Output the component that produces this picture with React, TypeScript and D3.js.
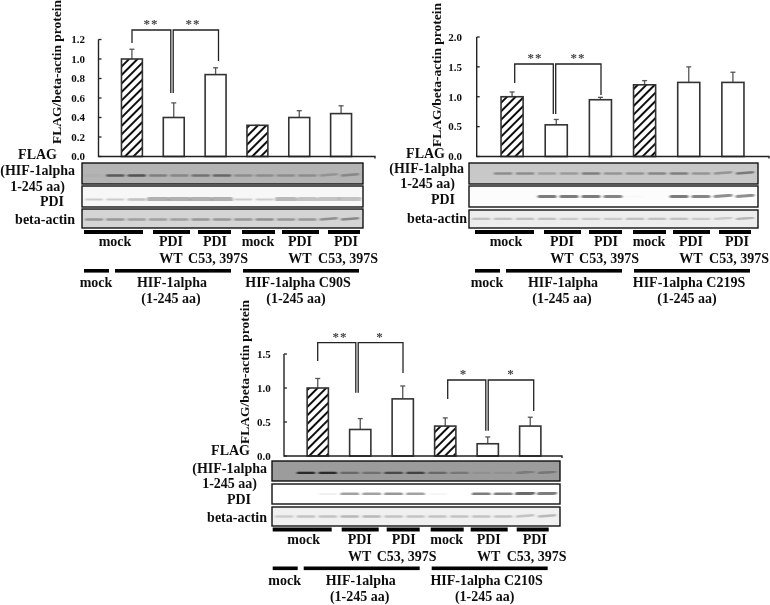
import React from "react";
import * as d3 from "d3";

const barNames = ["mock", "PDI WT", "PDI C53", "mock2", "PDI WT2", "PDI C53 2"];
const valuesA = [1.0, 0.4, 0.84, 0.32, 0.4, 0.44];
const errTopA = [1.1, 0.55, 0.91, 0.32, 0.47, 0.52];
const valuesB = [1.0, 0.53, 0.95, 1.2, 1.24, 1.24];
const errTopB = [1.08, 0.62, 0.99, 1.27, 1.5, 1.41];
const valuesC = [1.0, 0.39, 0.84, 0.44, 0.18, 0.44];
const errTopC = [1.14, 0.55, 1.03, 0.56, 0.28, 0.57];
const ticksA = [0, 0.2, 0.4, 0.6, 0.8, 1.0, 1.2];
const ticksB = [0, 0.5, 1.0, 1.5, 2.0];
const ticksC = [0, 0.5, 1.0, 1.5];

const flagA = [0.05, 0.7, 0.75, 0.4, 0.35, 0.5, 0.6, 0.3, 0.3, 0.3, 0.3, 0.25, 0.35];
const pdiA = [0.25, 0.25, 0.3, 0.4, 0.4, 0.4, 0.4, 0.25, 0.25, 0.35, 0.3, 0.3, 0.3];
const pdiThickA = [2, 2, 2.5, 6, 6, 6, 6, 2, 2, 6, 5, 6, 7];
const actinA = [0.4, 0.4, 0.35, 0.35, 0.35, 0.4, 0.4, 0.4, 0.45, 0.4, 0.4, 0.45, 0.5];
const flagB = [0, 0.45, 0.45, 0.3, 0.35, 0.55, 0.4, 0.4, 0.5, 0.55, 0.4, 0.4, 0.6];
const pdiB = [0, 0, 0, 0.7, 0.7, 0.7, 0.65, 0.02, 0, 0.7, 0.65, 0.6, 0.6];
const pdiThickB = [2, 2, 2, 3, 3, 3, 3, 2, 2, 3, 3, 3, 3];
const actinB = [0.25, 0.25, 0.25, 0.25, 0.2, 0.2, 0.2, 0.25, 0.25, 0.25, 0.2, 0.2, 0.3];
const flagC = [0, 0.85, 0.85, 0.4, 0.35, 0.65, 0.7, 0.4, 0.3, 0.08, 0.08, 0.25, 0.3];
const pdiC = [0, 0, 0.08, 0.5, 0.5, 0.55, 0.5, 0.05, 0, 0.7, 0.7, 0.8, 0.7];
const pdiThickC = [2, 2, 2, 3, 3, 3, 3, 2, 2, 3, 3, 4, 4];
const actinC = [0.2, 0.25, 0.25, 0.3, 0.3, 0.25, 0.25, 0.25, 0.25, 0.25, 0.25, 0.25, 0.3];

const yTitle = "FLAG/beta-actin protein";
const groupLabels = ["mock", "PDI", "PDI", "mock", "PDI", "PDI"];
const subLabels = ["WT", "C53, 397S", "WT", "C53, 397S"];

const font = "'Liberation Serif', 'Times New Roman', serif";

type BracketT = { l: number; m: number; r: number; top: number; lb: number; mb: number; rb: number; stars: [string, string]; sl: number; sr: number };

function Txt(p: { x: number; y: number; s: string; size?: number; a?: string }) {
  return (
    <text x={p.x} y={p.y} fontSize={p.size ?? 14} textAnchor={p.a ?? "middle"} fontWeight="bold" fontFamily={font} fill="#111">
      {p.s}
    </text>
  );
}

function Blot(p: { x0: number; x1: number; y0: number; y1: number; bg: string; vals: number[]; thick: number[] | number; dark: number; shift: number }) {
  const lane = d3.scalePoint<number>().domain(d3.range(p.vals.length)).range([p.x0 + 12, p.x1 - 13]);
  const cy = (p.y0 + p.y1) / 2 + p.shift;
  return (
    <g>
      <rect x={p.x0} y={p.y0} width={p.x1 - p.x0} height={p.y1 - p.y0} fill={p.bg} />
      <g filter="url(#band)">
        {p.vals.map((v, i) => {
          const slope = i >= 11 ? -1.2 : 0;
          const t = Array.isArray(p.thick) ? p.thick[i] : p.thick;
          const xc = lane(i)!;
          return v > 0 ? (
            <line key={i} x1={xc - 8} x2={xc + 8} y1={cy} y2={cy + slope} stroke={`rgb(${p.dark},${p.dark},${p.dark})`} strokeOpacity={v} strokeWidth={t} strokeLinecap="round" />
          ) : null;
        })}
      </g>
      <rect x={p.x0} y={p.y0} width={p.x1 - p.x0} height={p.y1 - p.y0} fill="none" stroke="#111" strokeWidth={1.4} />
    </g>
  );
}

function Panel(p: {
  axisX: number; axisEnd: number; y0: number; yTop: number; domainMax: number; bandL: number; bandR: number;
  values: number[]; errTop: number[]; ticks: number[]; tickEnd: number; titleX: number; titleY: number;
  brackets: BracketT[];
  blotX0: number; blotX1: number; blotYs: [number, number][]; blotBg: string[];
  flag: number[]; pdi: number[]; pdiThick: number[]; actin: number[]; flagDark: number; shifts: number[];
  leftLabels: { s: string; x: number; y: number; a?: string }[];
  dx: number; dy: number; construct: string; ctrX: number;
}) {
  const y = d3.scaleLinear().domain([0, p.domainMax]).range([p.y0, p.yTop]);
  const x = d3.scaleBand<string>().domain(barNames).range([p.bandL, p.bandR]).paddingInner(0.5).paddingOuter(0.25);
  const bw = x.bandwidth();
  const { dx, dy } = p;
  const groupBars: [number, number][] = [[84, 143], [153, 190], [198, 231], [242, 275], [282, 319], [328, 360]];
  const groupCx = [115, 171, 215, 258, 300, 346];
  const subCx = [171, 218, 300, 348];
  const lowBars: [number, number][] = [[84, 109], [115, 231], [243, 359]];
  return (
    <g>
      {p.values.map((v, i) => {
        const bx = x(barNames[i])!;
        const cx = bx + bw / 2;
        return (
          <g key={i}>
            <line x1={cx} x2={cx} y1={y(v)} y2={y(p.errTop[i])} stroke="#555" strokeWidth={1.3} />
            <line x1={cx - 2.5} x2={cx + 2.5} y1={y(p.errTop[i])} y2={y(p.errTop[i])} stroke="#555" strokeWidth={1.3} />
            <rect x={bx} y={y(v)} width={bw} height={p.y0 - y(v)} fill={i === 0 || i === 3 ? "url(#hatch)" : "#fff"} stroke="#333" strokeWidth={1.6} />
          </g>
        );
      })}
      <path d={`M${p.axisX},${p.yTop}V${p.y0}H${p.axisEnd}V${p.y0 + 2}`} fill="none" stroke="#222" strokeWidth={1.4} />
      {p.ticks.map((t) => (
        <g key={t}>
          <line x1={p.axisX} x2={p.axisX + 3} y1={y(t)} y2={y(t)} stroke="#222" strokeWidth={1.3} />
          <Txt x={p.tickEnd} y={y(t) + 3.8} s={d3.format(".1f")(t)} size={11} a="end" />
        </g>
      ))}
      <text transform={`translate(${p.titleX},${p.titleY}) rotate(-90)`} fontSize={13.5} fontWeight="bold" fontFamily={font} textAnchor="start" fill="#111">
        {yTitle}
      </text>
      {p.brackets.map((b, i) => (
        <g key={i}>
          <path d={`M${b.l},${b.lb}V${b.top}H${b.m - 1.2}V${b.mb}`} fill="none" stroke="#222" strokeWidth={1.3} />
          <path d={`M${b.r},${b.rb}V${b.top}H${b.m + 1.2}V${b.mb}`} fill="none" stroke="#222" strokeWidth={1.3} />
          <text x={b.sl} y={b.top - 2} fontSize={13} textAnchor="middle" fill="#444" fontFamily={font} fontWeight="bold" letterSpacing={1}>{b.stars[0]}</text>
          <text x={b.sr} y={b.top - 2} fontSize={13} textAnchor="middle" fill="#444" fontFamily={font} fontWeight="bold" letterSpacing={1}>{b.stars[1]}</text>
        </g>
      ))}
      <Blot x0={p.blotX0} x1={p.blotX1} y0={p.blotYs[0][0]} y1={p.blotYs[0][1]} bg={p.blotBg[0]} vals={p.flag} thick={2.5} dark={p.flagDark} shift={p.shifts[0]} />
      <Blot x0={p.blotX0} x1={p.blotX1} y0={p.blotYs[1][0]} y1={p.blotYs[1][1]} bg={p.blotBg[1]} vals={p.pdi} thick={p.pdiThick} dark={70} shift={p.shifts[1]} />
      <Blot x0={p.blotX0} x1={p.blotX1} y0={p.blotYs[2][0]} y1={p.blotYs[2][1]} bg={p.blotBg[2]} vals={p.actin} thick={2.5} dark={60} shift={p.shifts[2]} />
      {p.leftLabels.map((l, i) => <Txt key={i} x={l.x} y={l.y} s={l.s} a={l.a ?? "end"} />)}
      {groupBars.map(([a, b], i) => <rect key={i} x={a + dx} y={230 + dy} width={b - a} height={4} fill="#000" />)}
      {groupLabels.map((s, i) => <Txt key={i} x={groupCx[i] + dx} y={246 + dy} s={s} />)}
      {subLabels.map((s, i) => <Txt key={i} x={subCx[i] + dx} y={263 + dy} s={s} />)}
      {lowBars.map(([a, b], i) => <rect key={i} x={a + dx} y={269 + dy} width={b - a} height={3.6} fill="#000" />)}
      <Txt x={96 + dx} y={287 + dy} s="mock" />
      <Txt x={172 + dx} y={287 + dy} s="HIF-1alpha" />
      <Txt x={171 + dx} y={303 + dy} s="(1-245 aa)" />
      <Txt x={p.ctrX + dx} y={287 + dy} s={p.construct} />
      <Txt x={296 + dx} y={303 + dy} s="(1-245 aa)" />
    </g>
  );
}

export default function App() {
  return (
    <svg width={770} height={605} viewBox="0 0 770 605" style={{ position: "absolute", left: 0, top: 0, background: "#fff" }}>
      <defs>
        <pattern id="hatch" width={6} height={6} patternUnits="userSpaceOnUse" patternTransform="rotate(45)">
          <rect width={6} height={6} fill="#fff" />
          <rect width={2} height={6} fill="#111" />
        </pattern>
        <filter id="band" x="-5%" y="-50%" width="110%" height="200%"><feGaussianBlur stdDeviation="1.1 0.6" /></filter>
        <filter id="soft" x="0" y="0" width="100%" height="100%"><feGaussianBlur stdDeviation="0.35" /></filter>
      </defs>
      <g filter="url(#soft)">
        <Panel axisX={98.5} axisEnd={375} y0={156.5} yTop={39.5} domainMax={1.2} bandL={111} bandR={362}
          values={valuesA} errTop={errTopA} ticks={ticksA} tickEnd={85} titleX={61} titleY={144}
          brackets={[{ l: 132, m: 172, r: 218.5, top: 30, lb: 43, mb: 93, rb: 61, stars: ["**", "**"], sl: 151, sr: 193 }]}
          blotX0={82} blotX1={363} blotYs={[[163, 184], [186, 207], [209, 228]]} blotBg={["#b4b4b4", "#f7f7f7", "#d4d4d4"]}
          flag={flagA} pdi={pdiA} pdiThick={pdiThickA} actin={actinA} flagDark={50} shifts={[2, 3, 1]}
          leftLabels={[
            { s: "FLAG", x: 57, y: 159 }, { s: "(HIF-1alpha", x: 75, y: 175 }, { s: "1-245 aa)", x: 65, y: 190.5 },
            { s: "PDI", x: 64, y: 206 }, { s: "beta-actin", x: 75, y: 224 },
          ]}
          dx={0} dy={0} construct="HIF-1alpha C90S" ctrX={298} />
        <Panel axisX={476.7} axisEnd={769} y0={156.5} yTop={37} domainMax={2} bandL={490} bandR={755}
          values={valuesB} errTop={errTopB} ticks={ticksB} tickEnd={462} titleX={441} titleY={147}
          brackets={[{ l: 514.7, m: 554.5, r: 601, top: 64, lb: 83, mb: 114, rb: 95, stars: ["**", "**"], sl: 535, sr: 578 }]}
          blotX0={469} blotX1={758} blotYs={[[163, 184], [186, 207], [210, 228]]} blotBg={["#c8c8c8", "#fcfcfc", "#ededed"]}
          flag={flagB} pdi={pdiB} pdiThick={pdiThickB} actin={actinB} flagDark={70} shifts={[0, 0, 0]}
          leftLabels={[
            { s: "FLAG", x: 445, y: 158 }, { s: "(HIF-1alpha", x: 464, y: 173 }, { s: "1-245 aa)", x: 455, y: 188 },
            { s: "PDI", x: 455, y: 204 }, { s: "beta-actin", x: 467, y: 223 },
          ]}
          dx={391} dy={0} construct="HIF-1alpha C219S" ctrX={298} />
        <Panel axisX={284} axisEnd={562} y0={456} yTop={354} domainMax={1.5} bandL={296.5} bandR={551.5}
          values={valuesC} errTop={errTopC} ticks={ticksC} tickEnd={270.7} titleX={249} titleY={444}
          brackets={[
            { l: 317.7, m: 357, r: 403, top: 342.7, lb: 361, mb: 392.7, rb: 373, stars: ["**", "*"], sl: 340, sr: 380 },
            { l: 447.7, m: 487, r: 533.7, top: 380, lb: 399, mb: 430.7, rb: 411, stars: ["*", "*"], sl: 463.5, sr: 511 },
          ]}
          blotX0={272} blotX1={560} blotYs={[[461, 481], [484, 504], [507, 526]]} blotBg={["#9c9c9c", "#ffffff", "#f0f0f0"]}
          flag={flagC} pdi={pdiC} pdiThick={pdiThickC} actin={actinC} flagDark={25} shifts={[2, 0, 0]}
          leftLabels={[
            { s: "FLAG", x: 250, y: 455 }, { s: "(HIF-1alpha", x: 267, y: 472.5 }, { s: "1-245 aa)", x: 257, y: 488 },
            { s: "PDI", x: 251, y: 503.5 }, { s: "beta-actin", x: 267, y: 522 },
          ]}
          dx={188.7} dy={297.5} construct="HIF-1alpha C210S" ctrX={298} />
      </g>
    </svg>
  );
}
